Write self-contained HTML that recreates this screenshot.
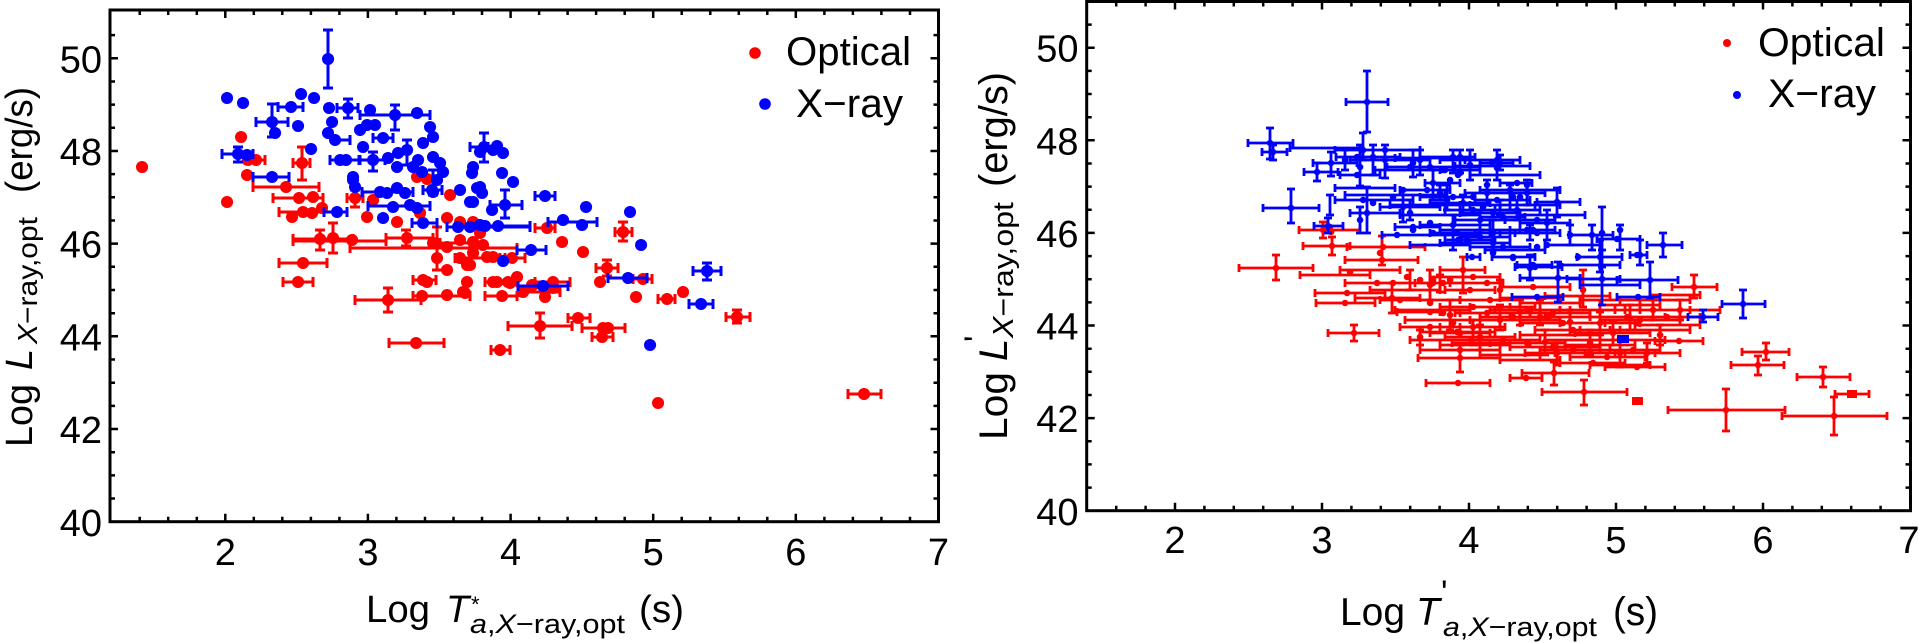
<!DOCTYPE html>
<html><head><meta charset="utf-8"><style>
html,body{margin:0;padding:0;background:#fff;}
svg{display:block;}
text{font-family:"Liberation Sans",Arial,sans-serif;fill:#000;}
</style></head><body>
<svg width="1920" height="643" viewBox="0 0 1920 643" xmlns="http://www.w3.org/2000/svg">
<defs>
<marker id="lhr" markerUnits="userSpaceOnUse" overflow="visible" markerWidth="1" markerHeight="1"><path d="M0,-5V5" stroke="#f00" stroke-width="3"/></marker>
<marker id="lvr" markerUnits="userSpaceOnUse" overflow="visible" markerWidth="1" markerHeight="1"><path d="M-5,0H5" stroke="#f00" stroke-width="3"/></marker>
<marker id="lhb" markerUnits="userSpaceOnUse" overflow="visible" markerWidth="1" markerHeight="1"><path d="M0,-5V5" stroke="#00f" stroke-width="3"/></marker>
<marker id="lvb" markerUnits="userSpaceOnUse" overflow="visible" markerWidth="1" markerHeight="1"><path d="M-5,0H5" stroke="#00f" stroke-width="3"/></marker>
<marker id="rhr" markerUnits="userSpaceOnUse" overflow="visible" markerWidth="1" markerHeight="1"><path d="M0,-4V4" stroke="#f00" stroke-width="2.8"/></marker>
<marker id="rvr" markerUnits="userSpaceOnUse" overflow="visible" markerWidth="1" markerHeight="1"><path d="M-4,0H4" stroke="#f00" stroke-width="2.8"/></marker>
<marker id="rhb" markerUnits="userSpaceOnUse" overflow="visible" markerWidth="1" markerHeight="1"><path d="M0,-4V4" stroke="#00f" stroke-width="2.8"/></marker>
<marker id="rvb" markerUnits="userSpaceOnUse" overflow="visible" markerWidth="1" markerHeight="1"><path d="M-4,0H4" stroke="#00f" stroke-width="2.8"/></marker>
</defs>
<rect width="1920" height="643" fill="#fff"/>

<!-- ================= LEFT PANEL ================= -->
<path fill="none" stroke="#f00" stroke-width="3" marker-start="url(#lhr)" marker-mid="url(#lhr)" marker-end="url(#lhr)" d="M245,160H265M293,163H310M253,187H319M273,198H323M279,212H337M293,239H353M293,241H386M386,238H433M279,263H327M283,282H313M355,300H421M389,343H444M491,350H510M413,280H436M350,248H517M413,296H470M485,296H517M485,282H517M508,326H572M568,318H590M582,328H625M592,337H613M535,228H555M596,268H618M615,232H632M633,279H652M658,299H675M726,317H750M848,394H881M347,198H363M440,243H470M455,258H505M500,258H525M520,292H560M535,282H570"/>
<path fill="none" stroke="#f00" stroke-width="3" marker-start="url(#lvr)" marker-mid="url(#lvr)" marker-end="url(#lvr)" d="M302,147V180M320,230V250M333,223V253M388,288V312M355,190V207M437,227V270M540,313V338M607,260V276M623,222V241M737,310V323M406,230V246"/>
<path fill="none" stroke="#f00" stroke-width="12" stroke-linecap="round" d="M142,167h.1M227,202h.1M241,137h.1M248,160h.1M256,160h.1M247,175h.1M302,163h.1M286,187h.1M299,198h.1M313,197h.1M292,217h.1M303,212h.1M312,213h.1M322,208h.1M320,239h.1M333,238h.1M352,240h.1M407,238h.1M303,263h.1M298,282h.1M388,300h.1M416,343h.1M500,350h.1M355,198h.1M367,217h.1M373,200h.1M397,222h.1M420,213h.1M417,177h.1M427,179h.1M450,195h.1M447,218h.1M460,222h.1M473,222h.1M433,243h.1M447,247h.1M460,240h.1M473,242h.1M483,245h.1M437,258h.1M447,270h.1M460,258h.1M467,265h.1M473,253h.1M487,257h.1M493,257h.1M512,258h.1M423,280h.1M427,282h.1M467,282h.1M493,282h.1M497,282h.1M510,283h.1M517,277h.1M422,296h.1M447,295h.1M463,292h.1M502,296h.1M523,292h.1M533,285h.1M553,282h.1M553,288h.1M545,297h.1M540,326h.1M578,318h.1M603,328h.1M608,328h.1M602,337h.1M547,228h.1M562,242h.1M583,252h.1M607,268h.1M600,282h.1M623,232h.1M643,279h.1M636,297h.1M667,299h.1M683,292h.1M737,317h.1M658,403h.1M864,394h.1M470,265h.1M508,282h.1M532,285h.1M480,233h.1M465,293h.1"/>
<path fill="none" stroke="#00f" stroke-width="3" marker-start="url(#lhb)" marker-mid="url(#lhb)" marker-end="url(#lhb)" d="M222,154H253M256,122H288M278,107H303M253,177H289M337,108H358M330,160H359M324,212H347M373,138H393M360,115H430M362,192H413M368,206H430M412,223H437M447,227H530M470,147H488M535,196H555M490,205H522M548,222H597M470,226H530M517,250H546M693,271H721M608,278H647M518,286H568M689,304H713M423,190H442M335,140H350M360,160H385"/>
<path fill="none" stroke="#00f" stroke-width="3" marker-start="url(#lvb)" marker-mid="url(#lvb)" marker-end="url(#lvb)" d="M238,147V162M272,104V137M328,30V88M348,99V118M373,152V171M395,105V130M484,133V162M505,190V218M707,263V280M407,140V165M433,170V195"/>
<path fill="none" stroke="#00f" stroke-width="12" stroke-linecap="round" d="M227,98h.1M243,103h.1M238,154h.1M272,122h.1M275,133h.1M291,107h.1M298,126h.1M301,94h.1M314,98h.1M311,149h.1M272,177h.1M328,59h.1M329,108h.1M332,122h.1M328,133h.1M335,140h.1M348,108h.1M370,110h.1M340,160h.1M346,160h.1M353,180h.1M355,187h.1M337,212h.1M360,130h.1M367,125h.1M375,125h.1M363,147h.1M383,138h.1M373,160h.1M395,115h.1M417,113h.1M430,127h.1M433,137h.1M398,153h.1M407,150h.1M388,158h.1M397,167h.1M413,167h.1M418,160h.1M423,143h.1M422,172h.1M433,157h.1M440,163h.1M443,172h.1M437,180h.1M433,192h.1M380,192h.1M397,188h.1M405,193h.1M387,193h.1M393,207h.1M410,205h.1M417,208h.1M383,218h.1M423,223h.1M458,227h.1M470,227h.1M480,225h.1M460,190h.1M470,202h.1M473,167h.1M472,173h.1M477,188h.1M484,147h.1M497,146h.1M503,153h.1M502,173h.1M513,182h.1M480,187h.1M482,193h.1M545,196h.1M473,202h.1M505,205h.1M492,210h.1M586,207h.1M630,212h.1M563,220h.1M582,225h.1M485,226h.1M498,226h.1M531,250h.1M641,245h.1M503,261h.1M707,271h.1M628,278h.1M543,286h.1M701,304h.1M650,345h.1M480,152h.1M493,150h.1M432,190h.1M353,177h.1M247,155h.1"/>

<rect x="110" y="10" width="828.5" height="511.7" fill="none" stroke="#000" stroke-width="3"/>
<path fill="none" stroke="#000" stroke-width="2.5" d="
M139.7,521.7v-5M168.2,521.7v-5M196.8,521.7v-5M253.8,521.7v-5M282.3,521.7v-5M310.9,521.7v-5M339.4,521.7v-5M396.4,521.7v-5M425,521.7v-5M453.5,521.7v-5M482,521.7v-5M539.1,521.7v-5M567.6,521.7v-5M596.1,521.7v-5M624.7,521.7v-5M681.7,521.7v-5M710.3,521.7v-5M738.8,521.7v-5M767.3,521.7v-5M824.4,521.7v-5M852.9,521.7v-5M881.4,521.7v-5M910,521.7v-5
M225.3,521.7v-8M367.9,521.7v-8M510.6,521.7v-8M653.2,521.7v-8M795.8,521.7v-8
M139.7,10v5M168.2,10v5M196.8,10v5M253.8,10v5M282.3,10v5M310.9,10v5M339.4,10v5M396.4,10v5M425,10v5M453.5,10v5M482,10v5M539.1,10v5M567.6,10v5M596.1,10v5M624.7,10v5M681.7,10v5M710.3,10v5M738.8,10v5M767.3,10v5M824.4,10v5M852.9,10v5M881.4,10v5M910,10v5
M225.3,10v8M367.9,10v8M510.6,10v8M653.2,10v8M795.8,10v8
M110,498.5h5M110,475.4h5M110,452.2h5M110,405.9h5M110,382.7h5M110,359.5h5M110,313.2h5M110,290h5M110,266.8h5M110,220.5h5M110,197.3h5M110,174.1h5M110,127.8h5M110,104.6h5M110,81.5h5M110,35.1h5
M110,429h8M110,336.3h8M110,243.6h8M110,151h8M110,58.3h8
M938.5,498.5h-5M938.5,475.4h-5M938.5,452.2h-5M938.5,405.9h-5M938.5,382.7h-5M938.5,359.5h-5M938.5,313.2h-5M938.5,290h-5M938.5,266.8h-5M938.5,220.5h-5M938.5,197.3h-5M938.5,174.1h-5M938.5,127.8h-5M938.5,104.6h-5M938.5,81.5h-5M938.5,35.1h-5
M938.5,429h-8M938.5,336.3h-8M938.5,243.6h-8M938.5,151h-8M938.5,58.3h-8"/>
<g font-size="38" text-anchor="end">
<text x="102" y="536">40</text><text x="102" y="443">42</text><text x="102" y="350.3">44</text><text x="102" y="257.6">46</text><text x="102" y="165">48</text><text x="102" y="72.3">50</text>
</g>
<g font-size="38" text-anchor="middle">
<text x="225.3" y="565">2</text><text x="367.9" y="565">3</text><text x="510.6" y="565">4</text><text x="653.2" y="565">5</text><text x="795.8" y="565">6</text><text x="938.5" y="565">7</text>
</g>
<text x="366" y="622" font-size="38" textLength="64" lengthAdjust="spacingAndGlyphs">Log</text>
<text x="446" y="622" font-size="38" font-style="italic">T</text>
<text x="471" y="612" font-size="22">*</text>
<text x="470" y="633" font-size="27" textLength="155" lengthAdjust="spacingAndGlyphs"><tspan font-style="italic">a</tspan>,<tspan font-style="italic">X</tspan>−ray,opt</text>
<text x="639" y="622" font-size="38" textLength="45" lengthAdjust="spacingAndGlyphs">(s)</text>
<text transform="translate(32,447) rotate(-90)" font-size="38" textLength="63" lengthAdjust="spacingAndGlyphs">Log</text>
<text transform="translate(32,370) rotate(-90)" font-size="38" font-style="italic">L</text>
<text transform="translate(37,344) rotate(-90)" font-size="28" textLength="127" lengthAdjust="spacingAndGlyphs"><tspan font-style="italic">X</tspan>−ray,opt</text>
<text transform="translate(32,193) rotate(-90)" font-size="38" textLength="106" lengthAdjust="spacingAndGlyphs">(erg/s)</text>
<circle cx="755" cy="53" r="5.8" fill="#f00"/>
<text x="786" y="65" font-size="40" textLength="125" lengthAdjust="spacingAndGlyphs">Optical</text>
<circle cx="765" cy="104" r="5.8" fill="#00f"/>
<text x="796" y="117" font-size="40" textLength="107" lengthAdjust="spacingAndGlyphs">X−ray</text>

<!-- ================= RIGHT PANEL ================= -->
<path fill="none" stroke="#f00" stroke-width="2.8" marker-start="url(#rhr)" marker-mid="url(#rhr)" marker-end="url(#rhr)" d="M1239,268H1313M1299,230H1360M1303,246H1350M1347,247H1425M1345,260H1418M1315,293H1385M1316,303H1375M1328,333H1379M1345,283H1503M1355,298H1420M1420,350H1500M1418,358H1500M1426,383H1490M1452,343H1530M1510,378H1542M1522,373H1589M1542,392H1627M1655,341H1703M1672,287H1717M1742,352H1789M1731,365H1784M1797,377H1850M1835,394H1869M1668,410H1785M1782,416H1887M1397,312H1440M1440,307H1510M1460,313H1530M1470,320H1560M1480,317H1545M1490,310H1570M1500,317H1590M1520,323H1605M1535,330H1610M1400,327H1460M1420,332H1495M1445,337H1515M1470,340H1540M1490,343H1565M1510,347H1600M1560,323H1640M1575,333H1650M1590,317H1665M1600,320H1680M1615,310H1690M1630,317H1700M1640,310H1720M1525,353H1590M1540,350H1610M1555,353H1625M1570,357H1645M1585,353H1655M1600,350H1660M1615,353H1680M1560,363H1625M1590,365H1650M1605,367H1665M1500,287H1570M1430,333H1490M1440,327H1505M1455,313H1520M1470,307H1535M1480,317H1550M1495,310H1560M1510,317H1570M1520,313H1590M1415,283H1450M1430,277H1500M1445,290H1495M1460,300H1520M1440,270H1485
M1370,290H1440M1380,300H1460M1395,310H1470M1405,320H1480M1410,340H1470M1440,345H1510M1480,355H1540M1500,360H1560M1520,335H1600M1545,340H1620M1565,345H1635M1580,330H1660M1600,340H1665M1620,330H1690M1635,325H1700M1500,298H1560M1520,303H1580M1545,296H1610M1560,310H1625M1580,300H1640M1600,305H1660M1620,300H1690M1650,295H1700M1340,270H1400M1300,275H1370"/>
<path fill="none" stroke="#f00" stroke-width="2.8" marker-start="url(#rvr)" marker-mid="url(#rvr)" marker-end="url(#rvr)" d="M1276,255V280M1323,222V238M1332,237V255M1382,236V265M1354,325V341M1392,283V313M1463,257V293M1460,345V372M1554,362V385M1584,380V405M1694,275V298M1766,343V360M1758,356V375M1823,367V387M1726,389V431M1834,397V435M1583,270V307M1473,320V345M1500,305V330M1540,300V325M1613,322V345M1600,312V335M1653,300V320M1680,300V320M1557,343V365M1620,340V367M1647,343V363M1410,270V290M1440,275V292M1500,280V300M1430,270V300M1450,300V330M1520,300V325M1545,330V355M1570,310V335M1590,330V355M1630,305V330M1660,325V345M1480,325V350M1420,330V345"/>
<path fill="none" stroke="#f00" stroke-width="6.5" stroke-linecap="round" d="M1276,268h.1M1323,230h.1M1330,227h.1M1332,246h.1M1383,247h.1M1380,253h.1M1382,260h.1M1347,293h.1M1345,303h.1M1354,333h.1M1377,283h.1M1393,283h.1M1407,277h.1M1420,280h.1M1433,280h.1M1392,298h.1M1430,303h.1M1443,313h.1M1453,323h.1M1463,270h.1M1473,277h.1M1487,283h.1M1500,290h.1M1473,307h.1M1487,313h.1M1500,320h.1M1513,317h.1M1530,310h.1M1547,317h.1M1563,323h.1M1573,330h.1M1430,327h.1M1457,332h.1M1480,337h.1M1503,340h.1M1527,343h.1M1553,347h.1M1460,350h.1M1460,358h.1M1458,383h.1M1502,343h.1M1526,378h.1M1554,373h.1M1584,392h.1M1679,341h.1M1694,287h.1M1766,352h.1M1758,365h.1M1823,377h.1M1852,394h.1M1726,410h.1M1834,416h.1M1583,290h.1M1600,323h.1M1613,333h.1M1627,317h.1M1640,320h.1M1653,310h.1M1667,317h.1M1680,310h.1M1557,353h.1M1573,350h.1M1590,353h.1M1607,357h.1M1620,353h.1M1633,350h.1M1647,353h.1M1593,363h.1M1620,365h.1M1637,367h.1M1533,287h.1M1460,333h.1M1473,327h.1M1487,313h.1M1500,307h.1M1513,317h.1M1527,310h.1M1540,317h.1M1553,313h.1M1433,283h.1M1443,283h.1M1450,280h.1M1470,290h.1M1490,300h.1M1430,312h.1M1331,232h.1M1430,285h.1M1450,315h.1M1520,312h.1M1545,342h.1M1570,322h.1M1590,343h.1M1630,318h.1M1660,335h.1M1480,338h.1M1420,337h.1M1350,272h.1M1400,300h.1"/>
<rect x="1632" y="397" width="11" height="8" fill="#f00"/>
<rect x="1847" y="390" width="10" height="8" fill="#f00"/>
<path fill="none" stroke="#00f" stroke-width="2.8" marker-start="url(#rhb)" marker-mid="url(#rhb)" marker-end="url(#rhb)" d="M1346,102H1388M1248,143H1293M1262,152H1287M1263,208H1319M1314,226H1343M1304,172H1338M1313,163H1357M1336,157H1400M1335,200H1413M1387,167H1480M1382,235H1480M1480,163H1513M1510,193H1545M1537,202H1580M1467,257H1480M1492,257H1535M1515,267H1562M1520,278H1580M1512,297H1563M1500,183H1532M1569,235H1613M1597,239H1640M1647,245H1682M1630,255H1647M1577,257H1622M1567,279H1620M1617,280H1678M1617,297H1660M1688,317H1718M1722,304H1765M1517,265H1552M1340,175H1380M1350,213H1400M1380,207H1440M1400,190H1450M1420,197H1475M1430,203H1490M1445,210H1500M1455,220H1505M1465,193H1510M1475,200H1530M1495,210H1540M1430,233H1490M1445,240H1495M1460,237H1510M1475,233H1515M1510,230H1555M1520,223H1570M1420,157H1475M1440,170H1480M1465,160H1520M1425,183H1460M1460,213H1520M1480,217H1525M1505,220H1555M1500,233H1560M1440,243H1510M1470,247H1530M1395,227H1440
M1290,148H1360M1335,150H1420M1350,160H1430M1375,170H1455M1395,158H1470M1440,160H1500M1455,166H1530M1470,175H1540M1335,188H1395M1345,195H1445M1390,205H1470M1400,215H1480M1420,225H1490M1440,230H1520M1460,205H1535M1480,190H1560M1500,205H1560M1520,215H1585M1410,245H1470M1485,250H1545M1545,245H1600M1560,265H1620M1580,285H1640"/>
<path fill="none" stroke="#00f" stroke-width="2.8" marker-start="url(#rvb)" marker-mid="url(#rvb)" marker-end="url(#rvb)" d="M1367,71V132M1270,128V159M1273,145V160M1291,189V223M1328,218V233M1317,163V181M1331,152V176M1360,145V186M1373,145V175M1367,187V233M1360,207V233M1363,133V160M1413,150V177M1497,150V180M1557,188V217M1558,262V302M1453,150V173M1460,150V173M1500,155V170M1592,225V250M1602,207V267M1663,233V257M1600,240V272M1602,250V305M1650,262V298M1703,310V322M1743,290V318M1440,185V200M1480,210V230M1410,200V220M1500,200V215M1530,225V240M1463,195V215M1517,200V220
M1385,145V178M1403,190V222M1420,150V175M1433,170V200M1447,185V210M1453,215V250M1470,150V180M1487,180V205M1493,220V250M1510,185V210M1527,180V205M1530,255V280M1547,210V240M1570,225V245M1620,225V250M1640,240V265M1330,195V215M1345,150V170"/>
<path fill="none" stroke="#00f" stroke-width="6.5" stroke-linecap="round" d="M1367,102h.1M1270,143h.1M1273,152h.1M1291,208h.1M1328,226h.1M1317,172h.1M1331,163h.1M1357,157h.1M1360,167h.1M1357,175h.1M1373,157h.1M1385,160h.1M1363,200h.1M1373,203h.1M1367,213h.1M1360,220h.1M1393,197h.1M1403,207h.1M1410,213h.1M1413,230h.1M1410,167h.1M1430,167h.1M1443,170h.1M1460,173h.1M1427,190h.1M1433,183h.1M1397,235h.1M1433,233h.1M1363,150h.1M1413,163h.1M1492,163h.1M1497,168h.1M1440,193h.1M1453,197h.1M1463,203h.1M1473,210h.1M1480,220h.1M1487,193h.1M1497,200h.1M1513,197h.1M1517,210h.1M1527,193h.1M1557,202h.1M1457,233h.1M1467,240h.1M1480,237h.1M1493,233h.1M1533,230h.1M1547,223h.1M1472,257h.1M1513,257h.1M1535,267h.1M1558,278h.1M1537,297h.1M1578,257h.1M1453,157h.1M1460,157h.1M1497,160h.1M1500,163h.1M1445,170h.1M1450,180h.1M1458,175h.1M1517,183h.1M1520,197h.1M1473,197h.1M1483,207h.1M1493,213h.1M1503,217h.1M1537,220h.1M1527,230h.1M1537,233h.1M1460,240h.1M1493,243h.1M1503,247h.1M1592,235h.1M1602,233h.1M1617,239h.1M1663,245h.1M1637,255h.1M1600,257h.1M1602,279h.1M1650,280h.1M1638,297h.1M1703,317h.1M1743,304h.1M1493,253h.1M1513,258h.1M1533,265h.1M1537,247h.1M1458,240h.1M1430,223h.1M1413,227h.1M1385,150h.1M1403,190h.1M1420,160h.1M1447,200h.1M1453,225h.1M1470,165h.1M1487,185h.1M1510,190h.1M1527,185h.1M1530,268h.1M1547,245h.1M1570,235h.1M1620,230h.1M1640,255h.1M1345,160h.1"/>
<rect x="1617" y="335" width="12" height="8" fill="#00f"/>

<rect x="1086.7" y="1.5" width="823.8" height="509.2" fill="none" stroke="#000" stroke-width="3"/>
<path fill="none" stroke="#000" stroke-width="2.5" d="
M1116.2,510.7v-5M1145.6,510.7v-5M1204.4,510.7v-5M1233.8,510.7v-5M1263.2,510.7v-5M1292.6,510.7v-5M1351.4,510.7v-5M1380.8,510.7v-5M1410.2,510.7v-5M1439.6,510.7v-5M1498.4,510.7v-5M1527.8,510.7v-5M1557.2,510.7v-5M1586.6,510.7v-5M1645.4,510.7v-5M1674.8,510.7v-5M1704.2,510.7v-5M1733.6,510.7v-5M1792.4,510.7v-5M1821.8,510.7v-5M1851.2,510.7v-5M1880.6,510.7v-5
M1175,510.7v-8M1322,510.7v-8M1469,510.7v-8M1616,510.7v-8M1763,510.7v-8
M1116.2,1.5v5M1145.6,1.5v5M1204.4,1.5v5M1233.8,1.5v5M1263.2,1.5v5M1292.6,1.5v5M1351.4,1.5v5M1380.8,1.5v5M1410.2,1.5v5M1439.6,1.5v5M1498.4,1.5v5M1527.8,1.5v5M1557.2,1.5v5M1586.6,1.5v5M1645.4,1.5v5M1674.8,1.5v5M1704.2,1.5v5M1733.6,1.5v5M1792.4,1.5v5M1821.8,1.5v5M1851.2,1.5v5M1880.6,1.5v5
M1175,1.5v8M1322,1.5v8M1469,1.5v8M1616,1.5v8M1763,1.5v8
M1086.7,487.6h5M1086.7,464.4h5M1086.7,441.3h5M1086.7,395h5M1086.7,371.8h5M1086.7,348.7h5M1086.7,302.4h5M1086.7,279.2h5M1086.7,256.1h5M1086.7,209.8h5M1086.7,186.6h5M1086.7,163.5h5M1086.7,117.2h5M1086.7,94h5M1086.7,70.9h5M1086.7,24.6h5
M1086.7,418.1h8M1086.7,325.5h8M1086.7,232.9h8M1086.7,140.3h8M1086.7,47.7h8
M1910.5,487.6h-5M1910.5,464.4h-5M1910.5,441.3h-5M1910.5,395h-5M1910.5,371.8h-5M1910.5,348.7h-5M1910.5,302.4h-5M1910.5,279.2h-5M1910.5,256.1h-5M1910.5,209.8h-5M1910.5,186.6h-5M1910.5,163.5h-5M1910.5,117.2h-5M1910.5,94h-5M1910.5,70.9h-5M1910.5,24.6h-5
M1910.5,418.1h-8M1910.5,325.5h-8M1910.5,232.9h-8M1910.5,140.3h-8M1910.5,47.7h-8"/>
<g font-size="38" text-anchor="end">
<text x="1078.5" y="525">40</text><text x="1078.5" y="432.1">42</text><text x="1078.5" y="339.5">44</text><text x="1078.5" y="246.9">46</text><text x="1078.5" y="154.3">48</text><text x="1078.5" y="61.7">50</text>
</g>
<g font-size="38" text-anchor="middle">
<text x="1175" y="553">2</text><text x="1322" y="553">3</text><text x="1469" y="553">4</text><text x="1616" y="553">5</text><text x="1763" y="553">6</text><text x="1909" y="553">7</text>
</g>
<text x="1340" y="625" font-size="39" textLength="65" lengthAdjust="spacingAndGlyphs">Log</text>
<text x="1416" y="625" font-size="39" font-style="italic">T</text>
<text x="1441" y="604" font-size="34">'</text>
<text x="1443" y="636" font-size="27" textLength="154" lengthAdjust="spacingAndGlyphs"><tspan font-style="italic">a</tspan>,<tspan font-style="italic">X</tspan>−ray,opt</text>
<text x="1613" y="625" font-size="40" textLength="45" lengthAdjust="spacingAndGlyphs">(s)</text>
<text transform="translate(1007,440) rotate(-90)" font-size="40" textLength="68" lengthAdjust="spacingAndGlyphs">Log</text>
<text transform="translate(1007,361) rotate(-90)" font-size="40" font-style="italic">L</text>
<text transform="translate(988,342) rotate(-90)" font-size="34">'</text>
<text transform="translate(1013,338) rotate(-90)" font-size="29" textLength="136" lengthAdjust="spacingAndGlyphs"><tspan font-style="italic">X</tspan>−ray,opt</text>
<text transform="translate(1007,187) rotate(-90)" font-size="40" textLength="115" lengthAdjust="spacingAndGlyphs">(erg/s)</text>
<circle cx="1727" cy="43" r="4" fill="#f00"/>
<text x="1758" y="56" font-size="40" textLength="127" lengthAdjust="spacingAndGlyphs">Optical</text>
<circle cx="1737" cy="95" r="4" fill="#00f"/>
<text x="1768" y="107" font-size="40" textLength="108" lengthAdjust="spacingAndGlyphs">X−ray</text>
</svg>
</body></html>
